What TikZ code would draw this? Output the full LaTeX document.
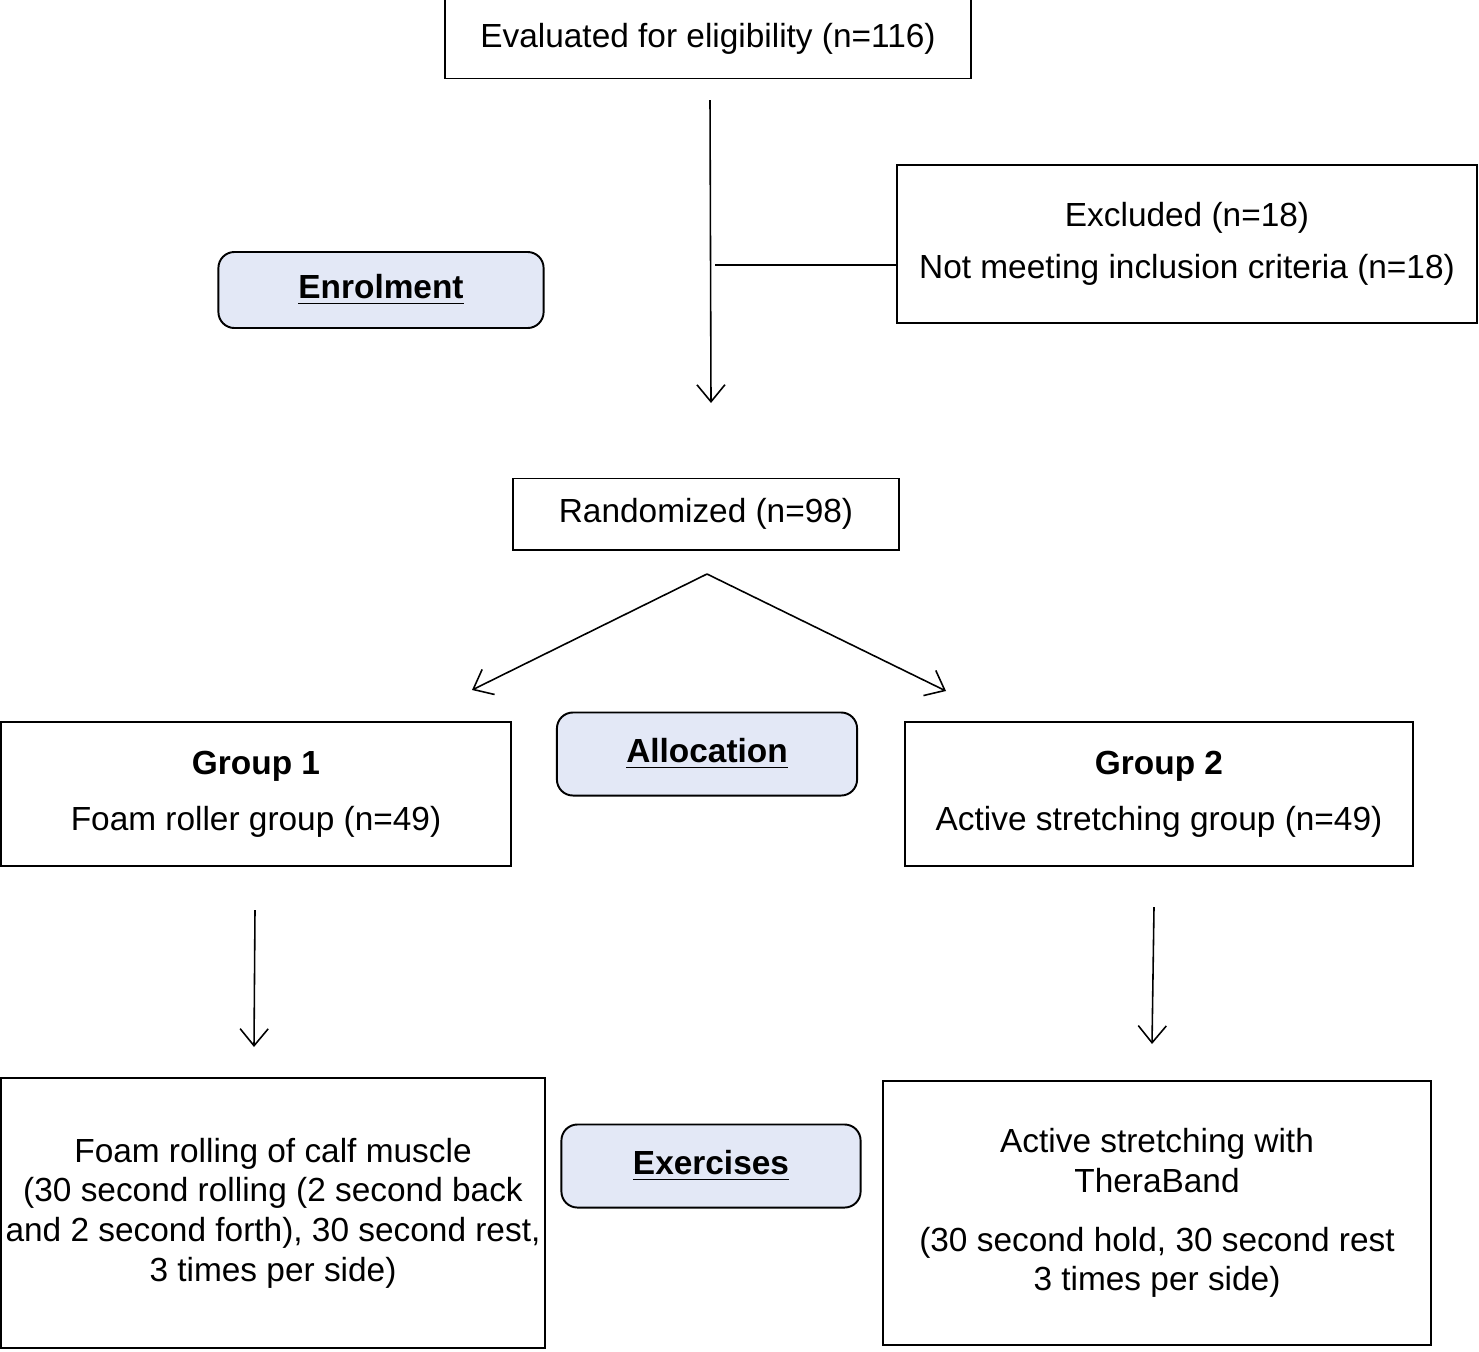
\documentclass[tikz,border=0pt]{standalone}
\usepackage{fontspec}
\setmainfont{Liberation Sans}
\usetikzlibrary{positioning, arrows.meta}

\definecolor{stagefill}{HTML}{E3E8F6}

\begin{document}
\begin{tikzpicture}[
            x=0.01cm, y=-0.01cm,
            font=\fontsize{9.5}{11.3}\selectfont,
            box/.style={draw, line width=0.55pt, align=center, inner sep=0pt},
            stage/.style={draw, line width=0.55pt, rounded corners=1.6mm, fill=stagefill,
                    align=center, inner sep=0pt, font=\fontsize{9.5}{11.3}\selectfont\bfseries},
            flow/.style={line width=0.45pt, -{Straight Barb[length=1.7mm, width=2.8mm]}}
        ]
        \useasboundingbox (0,0) rectangle (1479,1351);

        % Enrolment
        \node[box, minimum width=5.26cm, minimum height=0.79cm] (eval) at (708,39)
            {Evaluated for eligibility (n=116)};
        \node[box, minimum width=5.79cm, minimum height=1.58cm] (excl) at (1187,244)
            {Excluded (n=18)\\[1.2mm] Not meeting inclusion criteria (n=18)};
        \node[stage, minimum width=3.25cm, minimum height=0.76cm] (enrol) at (381,290)
            {\underline{Enrolment}};
        \coordinate (evaldown) at (710,100);
        \coordinate (randup) at (711,403);
        \coordinate (split) at (715,265);
        \draw[flow] (evaldown) -- (randup);
        \draw[line width=0.45pt] (split) -- (split -| excl.west);

        % Allocation
        \node[box, minimum width=3.85cm, minimum height=0.71cm] (rand) at (706,514)
            {Randomized (n=98)};
        \node[box, minimum width=5.09cm, minimum height=1.44cm] (g1) at (256,794)
            {\textbf{Group 1}\\[1.6mm] Foam roller group (n=49)};
        \node[stage, minimum width=3.00cm, minimum height=0.83cm] (alloc) at (707,754)
            {\underline{Allocation}};
        \node[box, minimum width=5.08cm, minimum height=1.44cm] (g2) at (1159,794)
            {\textbf{Group 2}\\[1.6mm] Active stretching group (n=49)};
        \coordinate (fork) at (707,574);
        \coordinate (g1in) at (472,690);
        \coordinate (g2in) at (946,691);
        \draw[flow] (fork) -- (g1in);
        \draw[flow] (fork) -- (g2in);

        % Exercises
        \coordinate (g1out) at (255,910);
        \coordinate (ex1in) at (254,1047);
        \coordinate (g2out) at (1154,907);
        \coordinate (ex2in) at (1152,1044);
        \draw[flow] (g1out) -- (ex1in);
        \draw[flow] (g2out) -- (ex2in);
        \node[box, minimum width=5.44cm, minimum height=2.70cm] (ex1) at (273,1213)
            {Foam rolling of calf muscle\\ (30 second rolling (2 second back\\
             and 2 second forth), 30 second rest,\\ 3 times per side)};
        \node[stage, minimum width=2.99cm, minimum height=0.83cm] (exer) at (711,1166)
            {\underline{Exercises}};
        \node[box, minimum width=5.48cm, minimum height=2.63cm] (ex2) at (1157,1213)
            {Active stretching with\\ TheraBand\\[1.9mm]
             (30 second hold, 30 second rest\\ 3 times per side)};
    \end{tikzpicture}
\end{document}
